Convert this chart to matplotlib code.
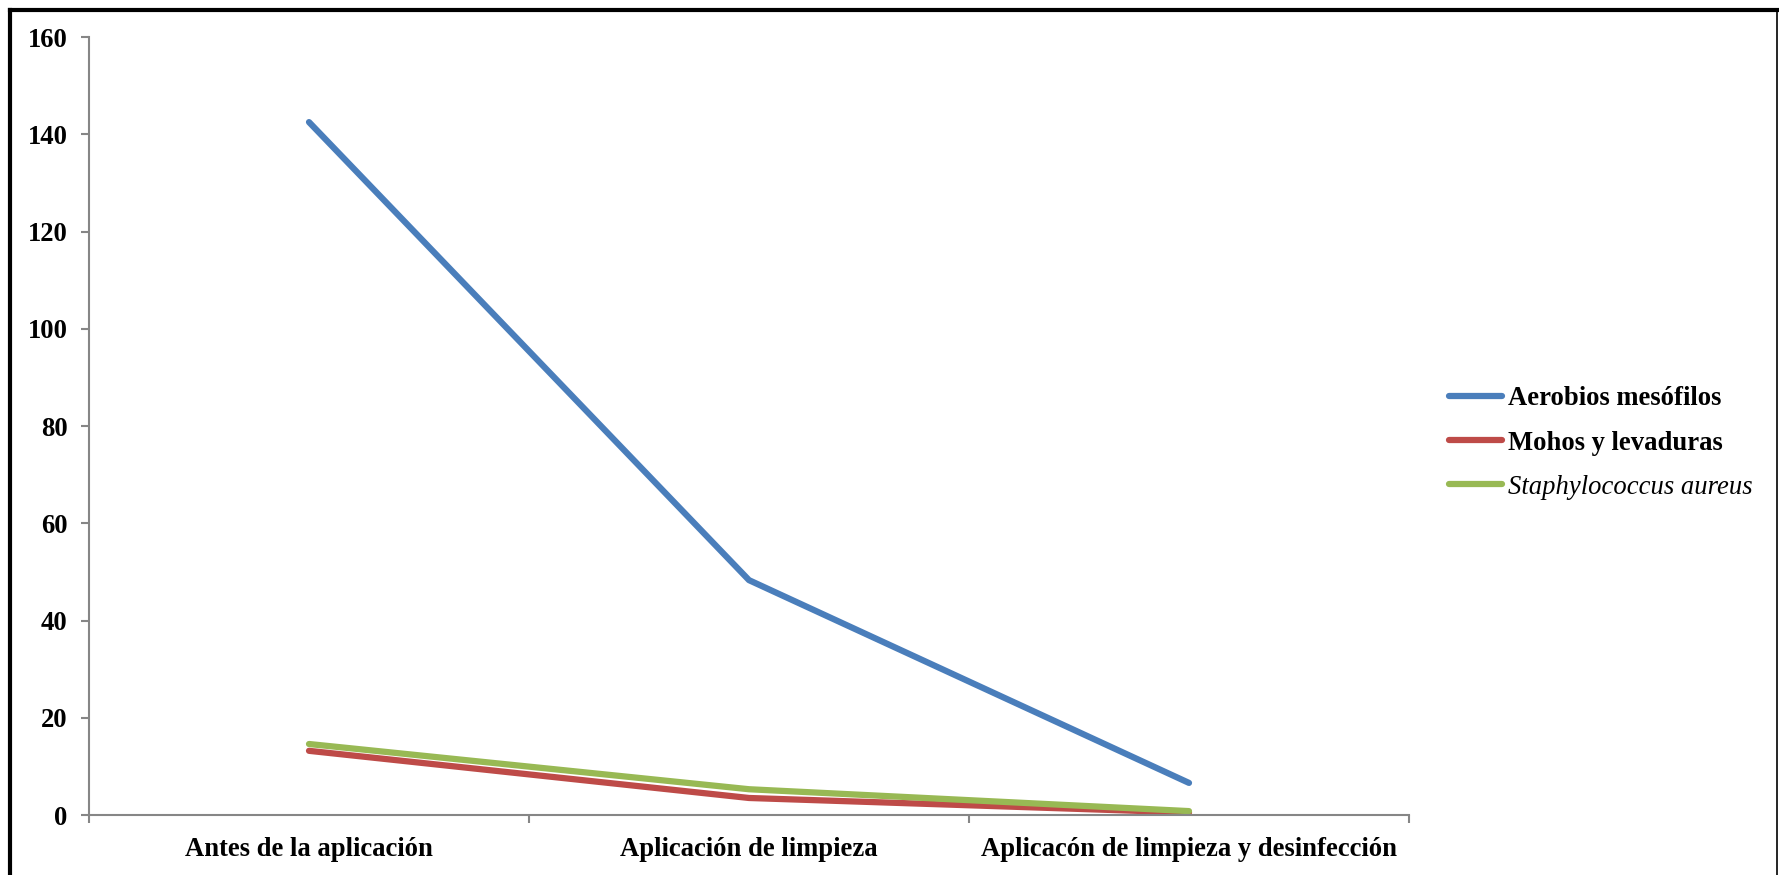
import matplotlib.pyplot as plt
from matplotlib.lines import Line2D

# Datos
etapas = ["Antes de la aplicación", "Aplicación de limpieza",
          "Aplicacón de limpieza y desinfección"]
aerobios = [142.5, 48.3, 6.6]
mohos = [13.2, 3.5, 0.5]
staph = [14.6, 5.3, 0.8]

series = ["Aerobios mesófilos", "Mohos y levaduras", "Staphylococcus aureus"]
colores = ["#4A7EBB", "#BE4B48", "#98B954"]

plt.rcParams['font.family'] = ['Liberation Serif', 'DejaVu Serif']
fs = 19.2

fig = plt.figure(figsize=(17.79, 8.75), dpi=100)
ax = fig.add_axes([0.05003, 0.06857, 0.74199, 0.88914])

x = range(len(etapas))
for valores, nombre, color in zip([aerobios, mohos, staph], series, colores):
    ax.plot(x, valores, color=color, lw=4.5, solid_capstyle='round', label=nombre)

ax.set_xlim(-0.5, len(etapas) - 0.5)
ax.set_ylim(0, 160)
ax.set_yticks(range(0, 161, 20))

# etiquetas centradas, marcas entre categorias
ax.set_xticks(list(x))
ax.set_xticklabels(etapas, fontsize=fs, fontweight='bold')
ax.set_xticks([i - 0.5 for i in range(len(etapas) + 1)], minor=True)
ax.tick_params(axis='x', which='major', length=0, pad=16)
ax.tick_params(axis='x', which='minor', length=5.5, width=1.5, color='#868686')
ax.tick_params(axis='y', length=5.5, width=1.5, color='#868686', pad=10)
for t in ax.get_yticklabels():
    t.set_fontsize(fs)
    t.set_fontweight('bold')

for lado in ['top', 'right']:
    ax.spines[lado].set_visible(False)
for lado in ['left', 'bottom']:
    ax.spines[lado].set_color('#868686')
    ax.spines[lado].set_linewidth(1.5)

leg = ax.legend(loc='center left', bbox_to_anchor=(0.8145, 0.4937),
                bbox_transform=fig.transFigure, frameon=False,
                borderpad=0, borderaxespad=0, handlelength=2.0,
                handletextpad=0.2, labelspacing=0.72, fontsize=fs)
textos = leg.get_texts()
textos[0].set_fontweight('bold')
textos[1].set_fontweight('bold')
textos[2].set_fontstyle('italic')

# marco exterior
fig.add_artist(Line2D([0.0056, 0.999], [0.9886, 0.9886], color='black', lw=3,
                      transform=fig.transFigure))
fig.add_artist(Line2D([0.0056, 0.0056], [0.0, 0.9886], color='black', lw=3,
                      transform=fig.transFigure))
fig.add_artist(Line2D([0.999, 0.999], [0.0, 0.9886], color='black', lw=1.2,
                      transform=fig.transFigure))

fig.savefig("out.png", dpi=100)
